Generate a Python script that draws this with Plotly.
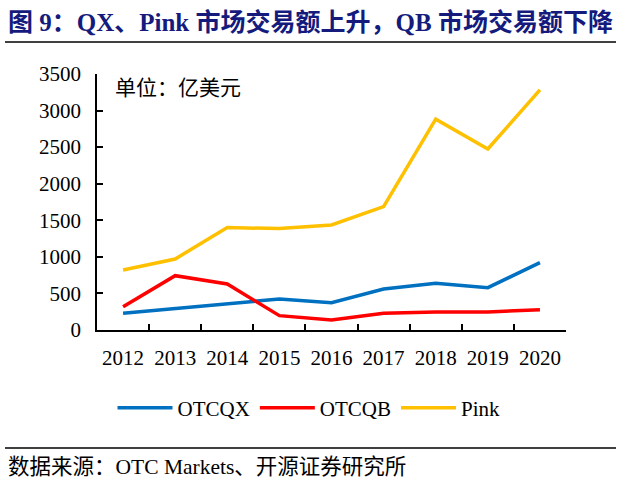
import plotly.graph_objects as go

years = ["2012", "2013", "2014", "2015", "2016", "2017", "2018", "2019", "2020"]
otcqx = [228, 296, 364, 424, 374, 561, 638, 579, 921]
otcqb = [319, 743, 629, 196, 137, 228, 246, 246, 278]
pink = [821, 971, 1400, 1386, 1436, 1687, 2882, 2476, 3283]

series = [("OTCQX", otcqx, "#0070C0"), ("OTCQB", otcqb, "#FF0000"), ("Pink", pink, "#FFC000")]

FONT = "Liberation Serif, Times New Roman, Noto Sans CJK SC, serif"

fig = go.Figure()
for name, vals, color in series:
    fig.add_trace(go.Scatter(x=years, y=vals, name=name, mode="lines",
                             line=dict(color=color, width=3.5)))

fig.update_layout(
    width=622, height=485,
    margin=dict(l=97, r=56, t=74, b=155, autoexpand=False),
    paper_bgcolor="white", plot_bgcolor="white",
    font=dict(family=FONT, size=21, color="black"),
    showlegend=True,
    legend=dict(orientation="h", x=(309 - 97) / 469, xanchor="center", y=-0.305, yanchor="middle",
                font=dict(size=21, family=FONT), itemwidth=55, tracegroupgap=0),
    xaxis=dict(type="category", range=[-0.5, 8.5], tickson="boundaries",
               ticks="inside", ticklen=6, tickcolor="black", tickwidth=1.5,
               showline=True, linecolor="black", linewidth=1.5, showgrid=False,
               automargin=False,
               ticklabelstandoff=8, tickfont=dict(size=21, family=FONT)),
    yaxis=dict(range=[0, 3500], dtick=500, ticks="inside", ticklen=6,
               tickcolor="black", tickwidth=1.5, showline=True, linecolor="black",
               linewidth=1.5, showgrid=False, zeroline=False, automargin=False,
               ticklabelstandoff=10, tickfont=dict(size=21, family=FONT)),
)

fig.add_annotation(xref="paper", yref="paper", x=(6 - 97) / 469, y=1.0 + (74 - 22) / 256,
                   xanchor="left", yanchor="middle", showarrow=False,
                   text="<b>图 9：QX、Pink 市场交易额上升，QB 市场交易额下降</b>",
                   font=dict(size=25, color="#141b7d", family=FONT))
fig.add_annotation(xref="paper", yref="paper", x=(113 - 97) / 469, y=(330 - 88) / 256,
                   xanchor="left", yanchor="middle", showarrow=False,
                   text="单位：亿美元", font=dict(size=21, family=FONT))
fig.add_annotation(xref="paper", yref="paper", x=(6 - 97) / 469, y=(330 - 467) / 256,
                   xanchor="left", yanchor="middle", showarrow=False,
                   text="数据来源：OTC Markets、开源证券研究所", font=dict(size=21.5, family=FONT))

for ypix in (42, 448):
    yp = (330 - ypix) / 256
    fig.add_shape(type="line", xref="paper", yref="paper",
                  x0=(5 - 97) / 469, x1=(616 - 97) / 469, y0=yp, y1=yp,
                  line=dict(color="black", width=1.5))

fig.write_html("out.html", config={"displayModeBar": False},
               post_script="document.body.style.margin='0';")
